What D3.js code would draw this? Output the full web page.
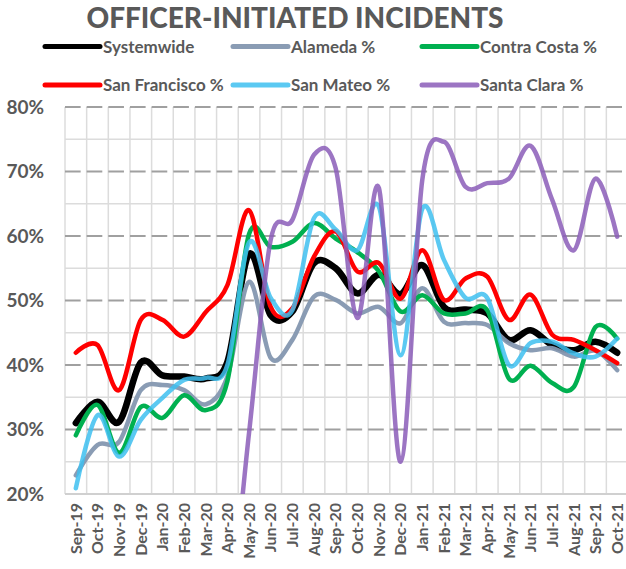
<!DOCTYPE html>
<html>
<head>
<meta charset="utf-8">
<script src="https://cdn.jsdelivr.net/npm/d3@7/dist/d3.min.js"></script>
<style>
  html, body { margin: 0; padding: 0; background: #fff; }
  svg { display: block; }
  text { font-family: Lato, "Open Sans", sans-serif; font-weight: bold; fill: #595959; }
</style>
</head>
<body>
<svg id="chart" width="626" height="569"></svg>
<script>
const months = ["Sep-19","Oct-19","Nov-19","Dec-19","Jan-20","Feb-20","Mar-20","Apr-20","May-20","Jun-20","Jul-20","Aug-20","Sep-20","Oct-20","Nov-20","Dec-20","Jan-21","Feb-21","Mar-21","Apr-21","May-21","Jun-21","Jul-21","Aug-21","Sep-21","Oct-21"];
const systemwide   = [31.0,34.3,31.2,40.4,38.4,38.2,37.9,40.5,57.2,47.7,48.3,55.8,55.0,51.1,54.0,51.0,55.5,49.0,48.6,48.0,43.9,45.4,43.1,42.3,43.6,41.9];
const alameda      = [22.9,27.6,28.1,36.1,36.9,36.1,33.9,38.2,52.9,41.1,43.9,50.6,50.1,48.0,49.0,46.5,51.9,46.7,46.5,46.2,43.4,42.3,42.6,41.3,42.2,39.2];
const contraCosta  = [29.1,33.8,26.4,33.5,31.8,35.3,33.0,37.5,60.3,58.3,59.1,62.0,59.6,57.5,54.5,48.3,50.8,48.0,48.0,48.5,37.9,39.9,37.2,36.6,45.9,44.1];
const sanFrancisco = [41.9,43.1,36.1,47.0,47.0,44.4,48.2,52.4,64.0,49.0,48.8,56.8,60.7,54.5,55.8,50.3,57.8,50.1,53.4,53.7,47.0,50.9,44.7,43.9,42.3,40.3];
const sanMateo     = [20.9,32.2,25.8,31.5,34.9,37.7,38.0,40.0,59.0,50.4,48.5,62.8,61.0,57.8,64.5,41.5,64.2,56.3,50.4,50.4,40.0,43.4,43.6,41.8,41.3,44.1];
const santaClara   = [0,0,0,0,0,0,0,0,29.5,59.4,62.5,72.6,70.5,47.3,67.4,25.0,68.7,74.6,67.6,68.2,68.9,74.0,65.6,57.8,68.9,59.9];
const seriesNames  = ["Systemwide","Alameda %","Contra Costa %","San Francisco %","San Mateo %","Santa Clara %"];
const yTicks = [20,30,40,50,60,70,80];
const yMinor = [25,35,45,55,65,75];
const title = "OFFICER-INITIATED INCIDENTS";

const seriesData = [systemwide, alameda, contraCosta, sanFrancisco, sanMateo, santaClara];
const colors = ["#000000","#8497B0","#00B050","#FF0000","#3EBFF0","#8B5DB8"];
const widths = [6.5, 4.5, 4.5, 4.5, 4.5, 4.5];
const opac = [1, 0.95, 1, 1, 0.85, 0.85];

const svg = d3.select("#chart");
const pLeft = 65, pRight = 628, pTop = 107, pBottom = 494;

const x = d3.scaleBand().domain(months).range([pLeft, pRight]).padding(0);
const xc = m => x(m) + x.bandwidth() / 2;
const y = d3.scaleLinear().domain([20, 80]).range([pBottom, pTop]);

// title
svg.append("text").attr("x", 295).attr("y", 28).attr("text-anchor", "middle")
  .style("font-size", "28px").style("font-weight", "900").text(title);

// legend
const legCols = [45, 233, 422];
const legRows = [46.5, 85];
seriesNames.forEach((n, i) => {
  const lx = legCols[i % 3], ly = legRows[Math.floor(i / 3)];
  svg.append("line").attr("x1", lx).attr("x2", lx + 55).attr("y1", ly).attr("y2", ly)
    .attr("stroke", colors[i]).attr("stroke-width", 5).attr("stroke-linecap", "round")
    .attr("stroke-opacity", opac[i]);
  svg.append("text").attr("x", lx + 58).attr("y", ly + 6).style("font-size", "17px").text(n);
});

// grid
const grid = svg.append("g");
grid.selectAll(".v").data(d3.range(months.length + 1)).enter().append("line")
  .attr("x1", i => pLeft + i * x.step()).attr("x2", i => pLeft + i * x.step())
  .attr("y1", pTop).attr("y2", pBottom).attr("stroke", "#dcdcdc").attr("stroke-width", 1.5);
grid.selectAll(".m").data(yMinor).enter().append("line")
  .attr("x1", pLeft).attr("x2", pRight).attr("y1", d => y(d)).attr("y2", d => y(d))
  .attr("stroke", "#dcdcdc").attr("stroke-width", 1.5);
grid.selectAll(".M").data(yTicks.filter(d => d > 20)).enter().append("line")
  .attr("x1", pLeft).attr("x2", pRight).attr("y1", d => y(d)).attr("y2", d => y(d))
  .attr("stroke", "#a0a0a0").attr("stroke-width", 2)
  .attr("stroke-dasharray", `${x.step() - 6} 6`);
grid.append("line").attr("x1", pLeft).attr("x2", pRight).attr("y1", y(20)).attr("y2", y(20))
  .attr("stroke", "#d0d0d0").attr("stroke-width", 2);

// y axis labels
const yAxis = d3.axisLeft(y).tickValues(yTicks).tickFormat(d => d + "%").tickSize(0).tickPadding(0);
const yg = svg.append("g").attr("transform", "translate(44,0)").call(yAxis);
yg.select(".domain").remove();
yg.selectAll("text").style("font-size", "19px").attr("fill", "#595959")
  .style("font-family", "Lato, sans-serif").style("font-weight", "bold");

// x axis labels
const xAxis = d3.axisBottom(x).tickSize(0).tickPadding(0);
const xg = svg.append("g").attr("transform", `translate(0,${pBottom})`).call(xAxis);
xg.select(".domain").remove();
xg.selectAll("text").style("font-size", "16px").attr("fill", "#595959")
  .style("font-family", "Lato, sans-serif").style("font-weight", "bold")
  .attr("text-anchor", "end").attr("transform", "rotate(-90)")
  .attr("x", -9).attr("y", 0).attr("dy", "0.36em");

// clip
svg.append("clipPath").attr("id", "clip").append("rect")
  .attr("x", pLeft - 10).attr("y", pTop - 10).attr("width", pRight - pLeft + 20).attr("height", pBottom - pTop + 10);

const line = d3.line().x((d, i) => xc(months[i])).y(d => y(d)).curve(d3.curveCardinal.tension(0));
const lg = svg.append("g").attr("clip-path", "url(#clip)");
seriesData.forEach((s, i) => {
  lg.append("path").datum(s).attr("d", line).attr("fill", "none")
    .attr("stroke", colors[i]).attr("stroke-width", widths[i])
    .attr("stroke-linecap", "round").attr("stroke-linejoin", "round")
    .attr("stroke-opacity", opac[i]);
});
</script>
</body>
</html>
